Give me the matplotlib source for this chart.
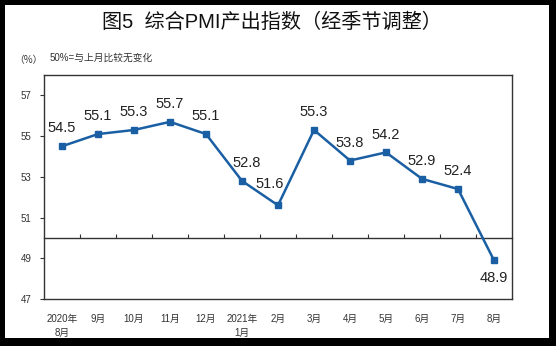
import numpy as np
import matplotlib.pyplot as plt
from matplotlib.patches import Rectangle

plt.rcParams['font.family'] = ['Liberation Sans', 'Noto Sans CJK SC', 'DejaVu Sans']

months = ['2020年\n8月', '9月', '10月', '11月', '12月', '2021年\n1月', '2月',
          '3月', '4月', '5月', '6月', '7月', '8月']
pmi = [54.5, 55.1, 55.3, 55.7, 55.1, 52.8, 51.6, 55.3, 53.8, 54.2, 52.9, 52.4, 48.9]
yticks = [47, 49, 51, 53, 55, 57]
# label offsets in points, nudged where the line would cross the text
label_dx = [0, 0, 0, 0, 0, 3, -6, 0, 0, 0, 0, 0, 0]

fig = plt.figure(figsize=(5.56, 3.46), dpi=100, facecolor='black')
# white card inside the black frame
fig.patches.append(Rectangle((5/556, 8/346), 544/556, 333/346,
                             transform=fig.transFigure, facecolor='white',
                             edgecolor='none', zorder=0))

ax = fig.add_axes([44/556, 47/346, 468/556, 224/346])
ax.set_zorder(2)
x = np.arange(len(months))
ax.plot(x, pmi, color='#1a5fa3', lw=1.8, marker='s', ms=4.5, zorder=3)

for xi, v, dx in zip(x, pmi, label_dx):
    if v < 50:
        dy = -12.5
    elif v == min(p for p in pmi if p >= 50):
        dy = 15.5
    else:
        dy = 12.8
    ax.annotate(f'{v}', (xi, v), xytext=(dx, dy), textcoords='offset points',
                ha='center', va='center', fontsize=10.5, color='#222222')

ax.set_xlim(-0.5, len(months) - 0.5)
ax.set_ylim(47, 58)
ax.set_yticks(yticks)
ax.tick_params(axis='y', direction='out', length=3, labelsize=7, pad=6, colors='#333333')
ax.set_xticks(x)
ax.set_xticklabels(months, fontsize=7, color='#333333', linespacing=1.5)
ax.tick_params(axis='x', length=0, pad=11)
for s in ax.spines.values():
    s.set_color('#333333')
    s.set_linewidth(1.0)

# category axis crossing at 50 with ticks between months
sec = ax.secondary_xaxis((50 - 47) / (58 - 47))
sec.set_xticks(x[:-1] + 0.5)
sec.set_xticklabels([])
sec.tick_params(direction='in', length=3, color='#333333')
sec.spines['bottom'].set_color('#333333')
sec.spines['bottom'].set_linewidth(1.0)

fig.text(272/556, 1 - 22/346, '图5  综合PMI产出指数（经季节调整）', ha='center', va='center',
         fontsize=14.5, fontweight='medium', color='#111111')
fig.text(14/556, 1 - 60/346, '（%）', ha='left', va='center', fontsize=7, color='#333333',
         family=['Noto Sans CJK SC'])
fig.text(50/556, 1 - 58/346, '50%=与上月比较无变化', ha='left', va='center',
         fontsize=7, color='#333333')

fig.savefig('out.png', dpi=100, facecolor='black')
